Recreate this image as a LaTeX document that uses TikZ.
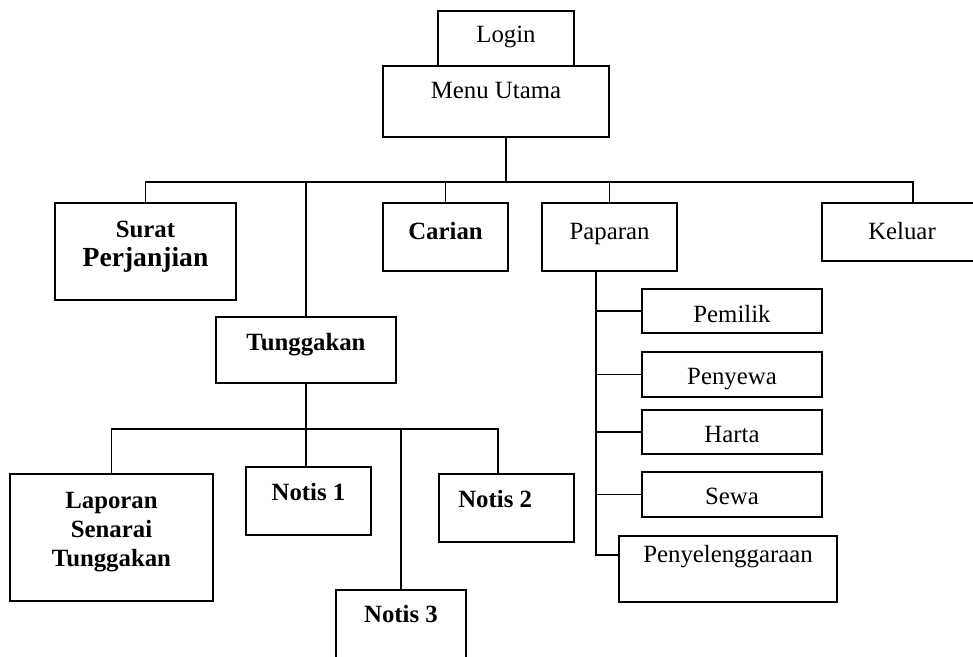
\documentclass[tikz,border=0pt]{standalone}
\usepackage{fontspec}
\setmainfont{Liberation Serif}
\tikzset{
  box/.style={draw, line width=1.4pt, inner sep=0pt, font=\fontsize{18.6pt}{21.75pt}\selectfont},
  bbox/.style={box, font=\fontsize{18.6pt}{21.75pt}\selectfont\bfseries},
  subbox/.style={box, minimum width=135pt, minimum height=33.4pt},
}

\begin{document}
\begin{tikzpicture}[x=0.75pt, y=-0.75pt, line width=1.4pt]
\useasboundingbox (0,0) rectangle (973,656);
\clip (0,0) rectangle (973,656);

% top
\node[box, minimum width=102pt, minimum height=41.25pt, text height=6.75pt, text depth=0pt] (login) at (506,38.5) {Login};
\node[box, minimum width=169.5pt, minimum height=53.25pt, text height=0pt, text depth=3.75pt] (menu) at (496,101.5) {Menu Utama};

% first level
\node[bbox, minimum width=135.75pt, minimum height=72.75pt, text height=0pt, text depth=0pt] (surat) at (145.5,251.5)
  {\begin{tabular}{@{}c@{}}Surat\\{\fontsize{20.7pt}{21.75pt}\selectfont Perjanjian}\end{tabular}};
\node[bbox, minimum width=135pt, minimum height=49.5pt, text height=0pt, text depth=0pt] (tunggakan) at (306,350) {Tunggakan};
\node[bbox, minimum width=93.75pt, minimum height=51pt, text height=3pt, text depth=0pt] (carian) at (445.5,237) {Carian};
\node[box, minimum width=101.25pt, minimum height=51pt, text height=3pt, text depth=0pt] (paparan) at (609.5,237) {Paparan};
\node[box, minimum width=120pt, minimum height=43.5pt, text height=10.5pt, text depth=0pt] (keluar) at (902,232) {Keluar};

% paparan
\node[subbox, text height=16.5pt, text depth=0pt] (pemilik) at (732,311) {Pemilik};
\node[subbox, text height=14.25pt, text depth=0pt] (penyewa) at (732,374.5) {Penyewa};
\node[subbox, text height=15pt, text depth=0pt] (harta) at (732,432) {Harta};
\node[subbox, text height=14.25pt, text depth=0pt] (sewa) at (732,494.5) {Sewa};
\node[box, minimum width=163.5pt, minimum height=49.5pt, text height=0pt, text depth=10.5pt] (penyel) at (728,569) {Penyelenggaraan};

% tunggakan
\node[bbox, minimum width=152.25pt, minimum height=95.25pt, text height=0pt, text depth=0pt] (laporan) at (111.5,537.5)
  {\begin{tabular}{@{}c@{}}Laporan\\Senarai\\Tunggakan\end{tabular}};
\node[bbox, minimum width=93.75pt, minimum height=51pt, text height=0pt, text depth=1.5pt] (notis1) at (308.5,501) {Notis 1};
\node[bbox, minimum width=101.25pt, minimum height=51pt, text height=0pt, text depth=1.5pt] (notis2) at (506.5,508) {Notis 2\hspace{17pt}\mbox{}};
\node[bbox, minimum width=97.5pt, minimum height=51pt, text height=0pt, text depth=3pt] (notis3) at (401,624) {Notis 3};

% lines
\coordinate (busR) at (913,182);
\coordinate (bus2R) at (498,429);
\coordinate (pvEnd) at (596,555);
\path (menu.south -| login.south) coordinate (m1);
\draw (m1) -- (m1 |- busR);
\draw (surat.north) |- (busR) -- (busR |- keluar.north);
\foreach \n in {tunggakan,carian,paparan}
  \draw (\n.north) -- (\n.north |- busR);
\draw (paparan.south -| pvEnd) -- (pvEnd) -- (pvEnd -| penyel.west);
\foreach \n in {pemilik,penyewa,harta,sewa}
  \draw (\n.west) -- (\n.west -| pvEnd);
\draw (tunggakan.south) -- (tunggakan.south |- notis1.north);
\draw (laporan.north) |- (bus2R) -- (bus2R |- notis2.north);
\draw (notis3.north) -- (notis3.north |- bus2R);
\end{tikzpicture}
\end{document}
